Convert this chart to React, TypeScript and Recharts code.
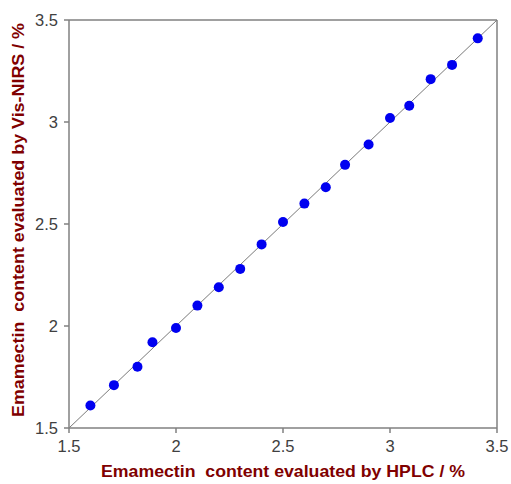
import {
  ScatterChart,
  Scatter,
  XAxis,
  YAxis,
  ReferenceLine,
  Label,
} from "recharts";

// reference method (HPLC) vs predicted (Vis-NIRS), emamectin content in %
const hplc = [
  1.6, 1.71, 1.82, 1.89, 2.0, 2.1, 2.2, 2.3, 2.4, 2.5, 2.6, 2.7, 2.79, 2.9,
  3.0, 3.09, 3.19, 3.29, 3.41,
];
const visNirs = [
  1.61, 1.71, 1.8, 1.92, 1.99, 2.1, 2.19, 2.28, 2.4, 2.51, 2.6, 2.68, 2.79,
  2.89, 3.02, 3.08, 3.21, 3.28, 3.41,
];
const ticks = [1.5, 2, 2.5, 3, 3.5];

const xTitle = "Emamectin  content evaluated by HPLC / %";
const yTitle = "Emamectin  content evaluated by Vis-NIRS / %";

const points = hplc.map((x, i) => ({ x, y: visNirs[i] }));

const AXIS = "#808080";
const TITLE = "#800000";
const FONT = "Arial, 'Liberation Sans', sans-serif";

const tickStyle = { fill: "#404040", fontSize: 16.5, fontFamily: FONT };

export default function App() {
  return (
    <div style={{ position: "absolute", left: 0, top: 0, background: "#fff" }}>
      <ScatterChart
        width={511}
        height={484}
        margin={{ top: 20, right: 14, bottom: 0, left: 0 }}
      >
        <XAxis
          type="number"
          dataKey="x"
          domain={[1.5, 3.5]}
          ticks={ticks}
          tickFormatter={(v) => String(v)}
          stroke={AXIS}
          strokeWidth={1.5}
          tickSize={5}
          tickMargin={7}
          tick={tickStyle}
          height={56}
          interval={0}
        >
          <Label
            content={({ viewBox }: any) => (
              <text
                x={viewBox.x + viewBox.width / 2}
                y={viewBox.y + 49}
                textAnchor="middle"
                fill={TITLE}
                fontSize={16.5}
                fontWeight="bold"
                fontFamily={FONT}
                textLength={364}
                lengthAdjust="spacingAndGlyphs"
                style={{ whiteSpace: "pre" }}
              >
                {xTitle}
              </text>
            )}
          />
        </XAxis>
        <YAxis
          type="number"
          dataKey="y"
          domain={[1.5, 3.5]}
          ticks={ticks}
          tickFormatter={(v) => String(v)}
          stroke={AXIS}
          strokeWidth={1.5}
          tickSize={5}
          tickMargin={6}
          tick={tickStyle}
          width={69}
          interval={0}
        >
          <Label
            content={({ viewBox }: any) => {
              const cx = viewBox.x + 24;
              const cy = 220;
              return (
                <text
                  x={cx}
                  y={cy}
                  transform={`rotate(-90 ${cx} ${cy})`}
                  textAnchor="middle"
                  fill={TITLE}
                  fontSize={16.5}
                  fontWeight="bold"
                  fontFamily={FONT}
                  textLength={394}
                  lengthAdjust="spacingAndGlyphs"
                  style={{ whiteSpace: "pre" }}
                >
                  {yTitle}
                </text>
              );
            }}
          />
        </YAxis>
        {/* frame on the top and right sides */}
        <ReferenceLine y={3.5} stroke={AXIS} strokeWidth={1.5} />
        <ReferenceLine x={3.5} stroke={AXIS} strokeWidth={1.5} />
        {/* 1:1 line */}
        <ReferenceLine
          segment={[
            { x: 1.5, y: 1.5 },
            { x: 3.5, y: 3.5 },
          ]}
          stroke="#7a7a7a"
          strokeWidth={1}
        />
        <Scatter
          data={points}
          fill="#0000f0"
          isAnimationActive={false}
          shape={(p: any) => <circle cx={p.cx} cy={p.cy} r={5} fill="#0000f0" />}
        />
      </ScatterChart>
    </div>
  );
}
